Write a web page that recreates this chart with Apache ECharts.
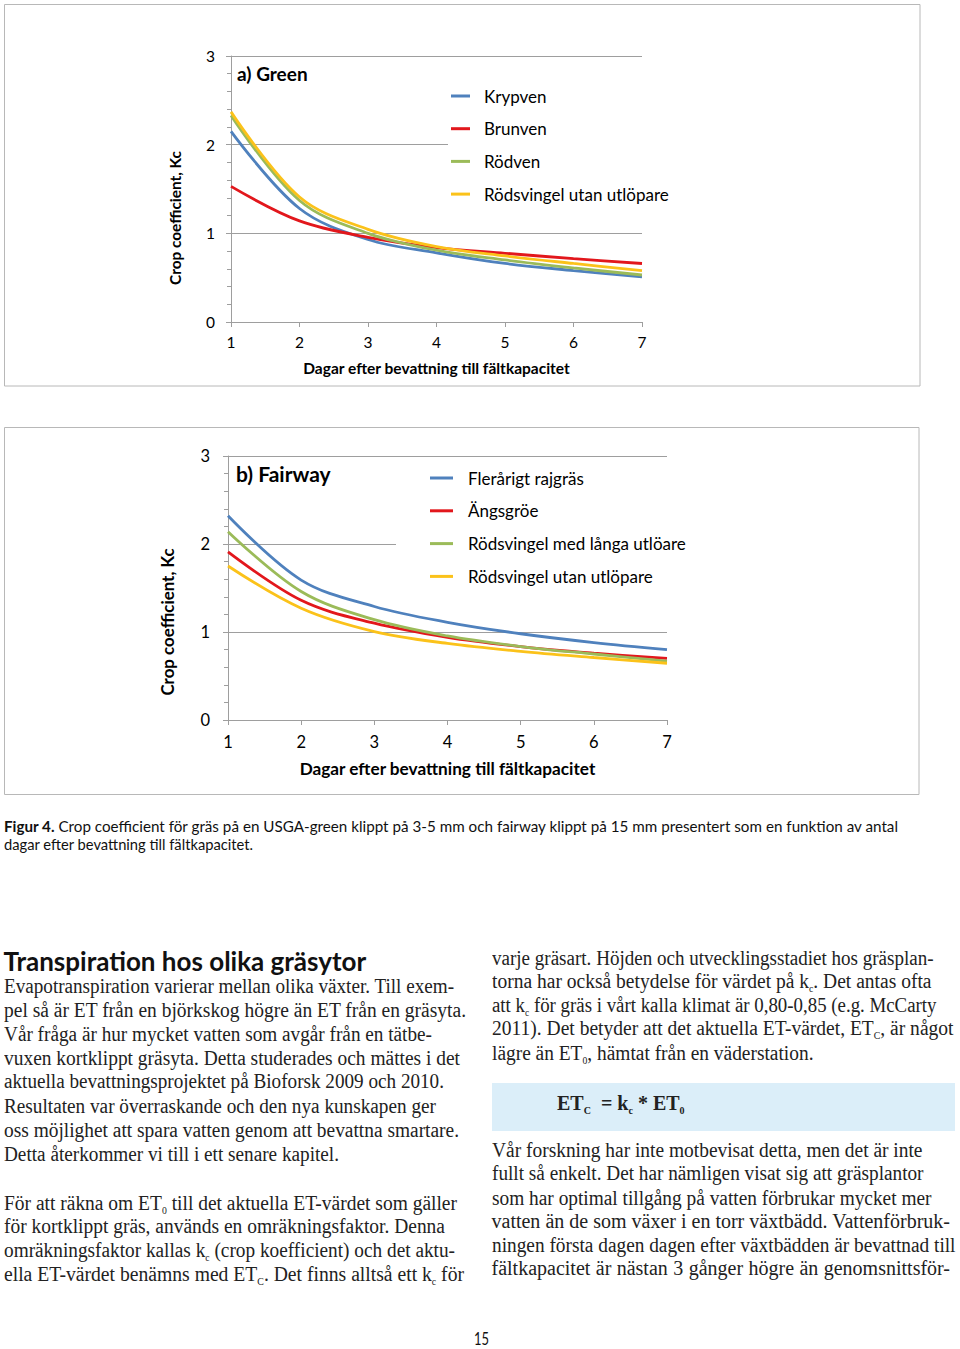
<!DOCTYPE html>
<html><head><meta charset="utf-8">
<script src="https://cdn.jsdelivr.net/npm/echarts/dist/echarts.min.js"></script>
<style>
html,body{margin:0;padding:0;background:#fff;}
#page{position:relative;width:960px;height:1349px;overflow:hidden;background:#fff;}
#chart{position:absolute;left:0;top:0;width:960px;height:800px;}
.ln{position:absolute;white-space:nowrap;font-family:"Liberation Serif","DejaVu Serif",serif;font-size:20px;line-height:24px;color:#222;transform-origin:0 50%;}
.ln sub{font-size:10px;vertical-align:-4px;line-height:0;}
.sans{font-family:Lato,"Liberation Sans",sans-serif;color:#111;}
</style></head>
<body><div id="page"><div id="chart"></div></div>
<script>
// ---------- chart data ----------
const days = [1, 2, 3, 4, 5, 6, 7];
const xTickLabels = ['1', '2', '3', '4', '5', '6', '7'];
const yTickLabels = ['0', '1', '2', '3'];
const greenNames = ['Krypven', 'Brunven', 'Rödven', 'Rödsvingel utan utlöpare'];
const krypven = [2.15, 1.28, 0.93, 0.78, 0.66, 0.58, 0.51];
const brunven = [1.53, 1.14, 0.955, 0.84, 0.775, 0.715, 0.66];
const rodven = [2.33, 1.37, 1.0, 0.81, 0.70, 0.61, 0.53];
const rodsvingelGreen = [2.37, 1.41, 1.045, 0.85, 0.745, 0.66, 0.58];
const fairwayNames = ['Flerårigt rajgräs', 'Ängsgröe', 'Rödsvingel med långa utlöare', 'Rödsvingel utan utlöpare'];
const flerarigt = [2.32, 1.59, 1.29, 1.11, 0.98, 0.88, 0.80];
const angsgroe = [1.91, 1.36, 1.10, 0.94, 0.835, 0.76, 0.70];
const rodsvingelMed = [2.14, 1.46, 1.14, 0.955, 0.835, 0.75, 0.67];
const rodsvingelUtan = [1.75, 1.27, 1.005, 0.87, 0.78, 0.71, 0.645];
const xTitle = 'Dagar efter bevattning till fältkapacitet';
const yTitle = 'Crop coefficient, Kc';
const titleA = 'a) Green';
const titleB = 'b) Fairway';

const COLORS = ['#4f81bd', '#e2171c', '#9bbb59', '#fbc21a'];
const FONT = 'Lato, "Liberation Sans", sans-serif';
const AX = '#9e9e9e';

function yAxis(gi, fs, margin) {
  return {gridIndex: gi, type: 'value', min: 0, max: 3, interval: 1,
    axisLine: {show: true, onZero: false, lineStyle: {color: AX}},
    axisTick: {show: true, length: 5, lineStyle: {color: AX}},
    minorTick: {show: true, splitNumber: 5, length: 4, lineStyle: {color: AX}},
    splitLine: {show: true, lineStyle: {color: AX}},
    axisLabel: {margin: margin, fontSize: fs, color: '#000', fontFamily: FONT,
      formatter: v => yTickLabels[Math.round(v)]}};
}
function xAxis(gi, fs, margin, nfs, gap) {
  return {gridIndex: gi, type: 'value', min: 1, max: 7, interval: 1,
    axisLine: {onZero: false, lineStyle: {color: AX}},
    axisTick: {length: 5, lineStyle: {color: AX}},
    splitLine: {show: false},
    axisLabel: {margin: margin, fontSize: fs, color: '#000', fontFamily: FONT,
      formatter: v => xTickLabels[Math.round(v) - 1]},
    name: xTitle, nameLocation: 'middle', nameGap: gap,
    nameTextStyle: {fontSize: nfs, fontWeight: 'bold', color: '#000', fontFamily: FONT}};
}
function ser(name, vals, ci, gi) {
  return {type: 'line', name: name, xAxisIndex: gi, yAxisIndex: gi,
    data: days.map((d, i) => [d, vals[i]]), smooth: 0.35, symbol: 'none',
    lineStyle: {width: 2.8, color: COLORS[ci]}, itemStyle: {color: COLORS[ci]}};
}
const chart = echarts.init(document.getElementById('chart'), null, {renderer: 'svg'});
chart.setOption({
  animation: false,
  grid: [
    {left: 231, top: 56, width: 411, height: 266},
    {left: 228, top: 456, width: 439, height: 264}
  ],
  xAxis: [xAxis(0, 15.5, 12, 15.5, 38), xAxis(1, 16.5, 13, 17.2, 40)],
  yAxis: [yAxis(0, 15.5, 16), yAxis(1, 16.5, 18)],
  legend: [
    {data: greenNames, orient: 'vertical', left: 448, top: 80, backgroundColor: '#fff',
     padding: [6, 10, 6, 3], icon: 'rect', itemWidth: 19, itemHeight: 3, itemGap: 12.7,
     textStyle: {fontSize: 17, lineHeight: 20, color: '#000', fontFamily: FONT, padding: [0, 0, 0, 9]}},
    {data: fairwayNames, orient: 'vertical', left: 396, top: 462, backgroundColor: '#fff',
     padding: [6, 10, 6, 34], icon: 'rect', itemWidth: 23, itemHeight: 3, itemGap: 12.8,
     textStyle: {fontSize: 17, lineHeight: 20, color: '#000', fontFamily: FONT, padding: [0, 0, 0, 10]}}
  ],
  series: [
    ser(greenNames[0], krypven, 0, 0), ser(greenNames[1], brunven, 1, 0),
    ser(greenNames[2], rodven, 2, 0), ser(greenNames[3], rodsvingelGreen, 3, 0),
    ser(fairwayNames[0], flerarigt, 0, 1), ser(fairwayNames[1], angsgroe, 1, 1),
    ser(fairwayNames[2], rodsvingelMed, 2, 1), ser(fairwayNames[3], rodsvingelUtan, 3, 1)
  ],
  graphic: [
    {type: 'rect', shape: {x: 4.5, y: 4.5, width: 915.5, height: 381.5}, style: {fill: 'none', stroke: '#b8b8b8', lineWidth: 1}},
    {type: 'rect', shape: {x: 4.5, y: 427.5, width: 914.5, height: 367}, style: {fill: 'none', stroke: '#b8b8b8', lineWidth: 1}},
    {type: 'text', x: 237, y: 73, style: {text: titleA, font: 'bold 19px ' + FONT, fill: '#000', verticalAlign: 'middle'}},
    {type: 'text', x: 236, y: 473, style: {text: titleB, font: 'bold 21px ' + FONT, fill: '#000', verticalAlign: 'middle'}},
    {type: 'text', x: 175, y: 218, rotation: Math.PI / 2, style: {text: yTitle, font: 'bold 15.4px ' + FONT, fill: '#000', align: 'center', verticalAlign: 'middle'}},
    {type: 'text', x: 167, y: 622, rotation: Math.PI / 2, style: {text: yTitle, font: 'bold 16.9px ' + FONT, fill: '#000', align: 'center', verticalAlign: 'middle'}}
  ]
});

// ---------- page text ----------
const page = document.getElementById('page');
// [html, startX, endX, centerY, justify]
const textLines = [
  ['Evapotranspiration varierar mellan olika växter. Till exem-', 4, 454, 988, 1],
  ['pel så är ET från en björkskog högre än ET från en gräsyta.', 4, 466, 1012, 1],
  ['Vår fråga är hur mycket vatten som avgår från en tätbe-', 4, 432, 1036, 1],
  ['vuxen kortklippt gräsyta. Detta studerades och mättes i det', 4, 460, 1060, 1],
  ['aktuella bevattningsprojektet på Bioforsk 2009 och 2010.', 4, 444, 1083, 1],
  ['Resultaten var överraskande och den nya kunskapen ger', 4, 436, 1108, 1],
  ['oss möjlighet att spara vatten genom att bevattna smartare.', 4, 459, 1132, 1],
  ['Detta återkommer vi till i ett senare kapitel.', 4, 339, 1156, 1],
  ['För att räkna om ET<sub>0</sub> till det aktuella ET-värdet som gäller', 4, 457, 1205, 1],
  ['för kortklippt gräs, används en omräkningsfaktor. Denna', 4, 445, 1228, 1],
  ['omräkningsfaktor kallas k<sub>c</sub> (crop koefficient) och det aktu-', 4, 455, 1252, 1],
  ['ella ET-värdet benämns med ET<sub>C</sub>. Det finns alltså ett k<sub>c</sub> för', 4, 464, 1276, 1],
  ['varje gräsart. Höjden och utvecklingsstadiet hos gräsplan-', 491.5, 933, 960, 1],
  ['torna har också betydelse för värdet på k<sub>c</sub>. Det antas ofta', 491.5, 931, 983, 1],
  ['att k<sub>c</sub> för gräs i vårt kalla klimat är 0,80-0,85 (e.g. McCarty', 491.5, 936, 1007, 1],
  ['2011). Det betyder att det aktuella ET-värdet, ET<sub>C</sub>, är något', 491.5, 953, 1030, 1],
  ['lägre än ET<sub>0</sub>, hämtat från en väderstation.', 491.5, 813, 1055, 1],
  ['Vår forskning har inte motbevisat detta, men det är inte', 491.5, 922, 1152, 1],
  ['fullt så enkelt. Det har nämligen visat sig att gräsplantor', 491.5, 923, 1175, 1],
  ['som har optimal tillgång på vatten förbrukar mycket mer', 491.5, 931, 1200, 1],
  ['vatten än de som växer i en torr växtbädd. Vattenförbruk-', 491.5, 950, 1223, 1],
  ['ningen första dagen dagen efter växtbädden är bevattnad till', 491.5, 955, 1247, 1],
  ['fältkapacitet är nästan 3 gånger högre än genomsnittsför-', 491.5, 950, 1270, 1]
];
function place(html, x0, x1, yc, justify, cls, style) {
  const d = document.createElement('div');
  d.className = 'ln' + (cls ? ' ' + cls : '');
  d.innerHTML = html;
  if (style) Object.assign(d.style, style);
  d.style.left = x0 + 'px';
  page.appendChild(d);
  const h = d.offsetHeight;
  d.style.top = (yc - h / 2) + 'px';
  const w0 = d.getBoundingClientRect().width;
  const tw = x1 - x0;
  const spaces = (d.textContent.match(/ /g) || []).length;
  if (w0 < tw && justify && spaces) {
    d.style.wordSpacing = ((tw - w0) / spaces) + 'px';
  } else if (w0 > tw) {
    d.style.transform = 'scaleX(' + (tw / w0) + ')';
  }
  return d;
}
textLines.forEach(l => place(l[0], l[1], l[2], l[3] - 2, l[4]));
// heading
place('Transpiration hos olika gräsytor', 3.5, 381, 961, 0, 'sans', {fontSize: '26px', fontWeight: 'bold', lineHeight: '22px'});
// caption
place('<b>Figur 4.</b> Crop coefficient för gräs på en USGA-green klippt på 3-5 mm och fairway klippt på 15 mm presentert som en funktion av antal', 4, 898, 826, 1, 'sans', {fontSize: '15.2px', lineHeight: '18px'});
place('dagar efter bevattning till fältkapacitet.', 4, 253, 844, 1, 'sans', {fontSize: '15.2px', lineHeight: '18px'});
// formula box
const box = document.createElement('div');
Object.assign(box.style, {position: 'absolute', left: '491.5px', top: '1083px', width: '463.5px', height: '47.5px', background: '#dbeef9'});
page.appendChild(box);
place('ET<sub>C</sub>&nbsp; = k<sub>c</sub> * ET<sub>0</sub>', 557, 690, 1103, 0, '', {fontWeight: 'bold'});
// page number
place('15', 474, 489, 1339, 0, 'sans', {fontSize: '17px', lineHeight: '20px'});
</script>
</body></html>
